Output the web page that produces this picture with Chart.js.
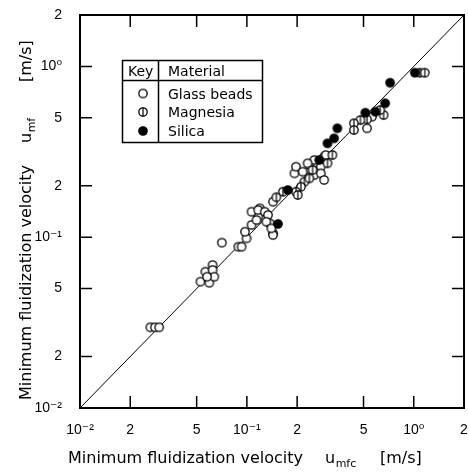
<!DOCTYPE html>
<html><head><meta charset="utf-8">
<script src="https://cdn.jsdelivr.net/npm/chart.js@4/dist/chart.umd.min.js"></script>
<style>html,body{margin:0;padding:0;background:#fff;overflow:hidden}#wrap{width:469px;height:472px;position:relative}</style>
</head><body><div id="wrap"><canvas id="c" width="469" height="472"></canvas></div>
<script>
// ---- data (x = u_mfc [m/s], y = u_mf [m/s]) ----
const tickValues = [0.01, 0.02, 0.05, 0.1, 0.2, 0.5, 1, 2];
const tickLabels = ['10⁻²', '2', '5', '10⁻¹', '2', '5', '10⁰', '2'];
const materials = ['Glass beads', 'Magnesia', 'Silica'];
const legendHeader = ['Key', 'Material'];
const xTitle = ['Minimum fluidization velocity', 'u', 'mfc', '[m/s]'];
const yTitle = ['Minimum fluidization velocity', 'u', 'mf', '[m/s]'];
const glassBeads = [
  [0.0264,0.0297],[0.0281,0.0297],[0.0298,0.0297],
  [0.0527,0.0549],[0.0596,0.0541],[0.0564,0.0628],[0.0623,0.0687],[0.0623,0.0643],[0.0638,0.0587],[0.0577,0.0587],
  [0.0708,0.0929],
  [0.0889,0.088],[0.0930,0.088],[0.0995,0.0985],[0.0974,0.1077],[0.1066,0.1179],[0.1169,0.1318],[0.1066,0.141],
  [0.1196,0.1476],[0.1169,0.1443],[0.1280,0.141],[0.1339,0.1349],[0.1434,0.1614],[0.1371,0.1206],[0.1434,0.1054],
  [0.1142,0.1261],[0.1308,0.1232],[0.1434,0.1030],[0.1401,0.1127],
  [0.1929,0.2366],[0.1971,0.2587],[0.2367,0.2260],[0.2367,0.2647],[0.2534,0.2831],[0.2534,0.2312],[0.2773,0.2587],
  [0.2773,0.2366],[0.2905,0.2163],[0.2905,0.2960],[0.2970,0.3029],[0.2161,0.2417],[0.2312,0.2709],
  [0.5248,0.4342],[0.5619,0.5075]
];
const magnesia = [
  [1.087,0.9186],[1.164,0.9186],[0.6594,0.5194],[0.6294,0.5555],[0.5248,0.4900],[0.4789,0.4855],[0.4378,0.4644],
  [0.4378,0.4242],[0.3255,0.3029],[0.3040,0.2709],[0.2476,0.2474],[0.2211,0.2113],[0.2110,0.1975],[0.1971,0.1847],
  [0.2018,0.1767],[0.1644,0.1847],[0.1501,0.1713],[0.2367,0.2212]
];
const silica = [
  [0.1535,0.1195],[0.1760,0.1889],[0.2714,0.2831],[0.3040,0.3546],[0.3331,0.3793],[0.3484,0.4342],
  [0.5129,0.5357],[0.5880,0.5430],[0.6740,0.6081],[0.7216,0.8028],[1.015,0.9186]
];
const parityLine = [[0.01,0.01],[2,2]];

// ---- marker images ----
function makeMarker(kind){
  const c = document.createElement('canvas'); c.width = 12; c.height = 12;
  const g = c.getContext('2d');
  g.beginPath(); g.arc(6,6,4.2,0,Math.PI*2);
  g.fillStyle = kind === 'filled' ? '#000' : '#fff'; g.fill();
  g.lineWidth = 1.3; g.strokeStyle = '#000'; g.stroke();
  if (kind === 'bar'){ g.beginPath(); g.moveTo(6,1.5); g.lineTo(6,10.5); g.lineWidth = 1.2; g.stroke(); }
  return c;
}
const mkGlass = makeMarker('open'), mkMag = makeMarker('bar'), mkSil = makeMarker('filled');
const toXY = a => a.map(p => ({x:p[0], y:p[1]}));
const labelFor = v => { const i = tickValues.findIndex(t => Math.abs(Math.log10(t)-Math.log10(v))<1e-6); return i<0 ? '' : tickLabels[i]; };
const TICKFONT = {family:'"Liberation Sans", "DejaVu Sans", Arial, sans-serif', size:14};
const TF = '"DejaVu Sans", sans-serif';

const decor = {
  id:'decor',
  afterDraw(chart){
    const ctx = chart.ctx, a = chart.chartArea, xs = chart.scales.x, ys = chart.scales.y;
    ctx.save();
    ctx.strokeStyle = '#000';
    // frame
    ctx.lineWidth = 2; ctx.strokeRect(a.left, a.top, a.right-a.left, a.bottom-a.top);
    // inward ticks on all sides
    ctx.lineWidth = 1.5; const L = 12;
    tickValues.slice(1,-1).forEach(v => {
      const px = xs.getPixelForValue(v), py = ys.getPixelForValue(v);
      ctx.beginPath();
      ctx.moveTo(px, a.bottom); ctx.lineTo(px, a.bottom-L);
      ctx.moveTo(px, a.top); ctx.lineTo(px, a.top+L);
      ctx.moveTo(a.left, py); ctx.lineTo(a.left+L, py);
      ctx.moveTo(a.right, py); ctx.lineTo(a.right-L, py);
      ctx.stroke();
    });
    // legend
    ctx.lineWidth = 1.5;
    ctx.strokeRect(122.5, 60.5, 140, 82);
    ctx.beginPath(); ctx.moveTo(122.5,80.5); ctx.lineTo(262.5,80.5); ctx.moveTo(158.5,60.5); ctx.lineTo(158.5,142.5); ctx.stroke();
    ctx.fillStyle = '#000'; ctx.font = '14px ' + TF; ctx.textBaseline = 'alphabetic'; ctx.textAlign = 'left';
    ctx.fillText(legendHeader[0], 128, 76); ctx.fillText(legendHeader[1], 168, 76);
    const imgs = [mkGlass, mkMag, mkSil], rows = [93.5, 112, 131];
    materials.forEach((m,i) => {
      ctx.drawImage(imgs[i], 143-6, rows[i]-6);
      ctx.fillText(m, 168, rows[i]+5);
    });
    // axis titles
    function title(parts, pos){
      ctx.font = '16px ' + TF; ctx.fillText(parts[0], pos[0], 0);
      ctx.fillText(parts[1], pos[1], 0);
      const uw = ctx.measureText(parts[1]).width;
      ctx.font = '11px ' + TF; ctx.fillText(parts[2], pos[1]+uw+0.5, 4);
      ctx.font = '16px ' + TF; ctx.fillText(parts[3], pos[2], 0);
    }
    ctx.save(); ctx.translate(0, 463); title(xTitle, [68, 325, 380]); ctx.restore();
    ctx.save(); ctx.translate(31, 0); ctx.rotate(-Math.PI/2); title(yTitle, [-400, -143, -82]); ctx.restore();
    ctx.restore();
  }
};

const logAxis = (isX) => ({
  type:'logarithmic', min:0.01, max:2, position: isX ? 'bottom' : 'left',
  grid:{display:false}, border:{display:false},
  ticks:{autoSkip:false, maxRotation:0, minRotation:0, padding: isX ? 6 : 10, color:'#000', font:TICKFONT,
    callback:(v)=>labelFor(v)},
  afterBuildTicks:(s)=>{ s.ticks = tickValues.map(v=>({value:v})); },
  afterFit:(s)=>{
    if (isX){ s.height = 64; s.paddingLeft = 0; s.paddingRight = 0; }
    else { s.width = 80; s.paddingTop = 0; s.paddingBottom = 0; }
  }
});

new Chart(document.getElementById('c'), {
  type:'scatter',
  data:{ datasets:[
    {label:'y = x', data:toXY(parityLine), showLine:true, borderColor:'#000', borderWidth:1, pointRadius:0, order:10},
    {label:materials[0], data:toXY(glassBeads), pointStyle:mkGlass, order:3},
    {label:materials[1], data:toXY(magnesia), pointStyle:mkMag, order:2},
    {label:materials[2], data:toXY(silica), pointStyle:mkSil, order:1}
  ]},
  options:{
    responsive:false, animation:false, devicePixelRatio:1,
    layout:{padding:{left:0, right:1, top:15, bottom:0}},
    plugins:{legend:{display:false}, tooltip:{enabled:false}},
    scales:{ x:logAxis(true), y:logAxis(false) }
  },
  plugins:[decor]
});
</script></body></html>
